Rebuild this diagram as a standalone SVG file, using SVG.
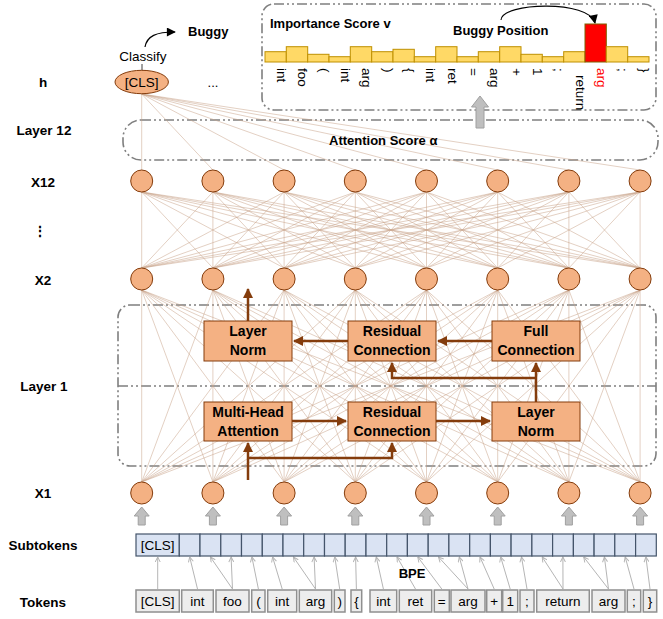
<svg xmlns="http://www.w3.org/2000/svg" width="663" height="619" viewBox="0 0 663 619">
<style>
text{font-family:"Liberation Sans",Arial,sans-serif;fill:#000}
.lbl{font-size:13.5px;font-weight:bold;text-anchor:middle}
.blk{font-size:14px;font-weight:bold;text-anchor:middle}
.tok{font-size:13.5px;text-anchor:middle}
.rot{font-size:13.5px;writing-mode:vertical-rl;text-orientation:sideways}
.ttl{font-size:13px;font-weight:bold}
.nd{fill:#F4B183;stroke:#843C0C;stroke-width:1}
.box{fill:#F4B183;stroke:#843C0C;stroke-width:1}
.dash{fill:none;stroke:#7F7F7F;stroke-width:1.6;stroke-dasharray:10 3 2 3 2 3}
.fan{fill:none;stroke:#C9A48C;stroke-width:0.8;stroke-opacity:0.65}
.arr{fill:none;stroke:#843C0C;stroke-width:2.5;marker-end:url(#ab)}
.bpe{stroke:#B5B5B5;stroke-width:1;marker-end:url(#chev)}
.sub{fill:#DAE3F3;stroke:#44546A;stroke-width:1.2}
.tk{fill:#EDEDED;stroke:#8F8F8F;stroke-width:1.5}
.bar{fill:#FFD966;stroke:#BF9000;stroke-width:1}
.garr{fill:#BFBFBF;stroke:#A0A0A0;stroke-width:1}
</style>
<defs>
<marker id="ab" viewBox="0 0 10 10" refX="9" refY="5" markerWidth="4" markerHeight="4" orient="auto"><path d="M0 0L10 5L0 10z" fill="#843C0C"/></marker>
<marker id="bk" viewBox="0 0 10 10" refX="9" refY="5" markerWidth="10" markerHeight="9" markerUnits="userSpaceOnUse" orient="auto"><path d="M0 0L10 5L0 10z" fill="#000"/></marker>
<marker id="chev" viewBox="0 0 6 6" refX="5.5" refY="3" markerWidth="6" markerHeight="6" markerUnits="userSpaceOnUse" orient="auto"><path d="M0.5 0.5L5.5 3L0.5 5.5" fill="none" stroke="#B5B5B5" stroke-width="1"/></marker>
<path id="ga" d="M0 0L7.5 9L3.5 9L3.5 18L-3.5 18L-3.5 9L-7.5 9Z"/>
</defs>

<!-- frames -->
<g id="importance-frame"><rect class="dash" x="262" y="4" width="394" height="106" rx="12"/></g>
<g id="attention-frame"><rect class="dash" x="123" y="120" width="535" height="40" rx="18"/></g>
<g id="layer1-frame"><rect class="dash" x="118" y="305" width="538" height="161" rx="12"/><line class="dash" x1="118" y1="386" x2="656" y2="386"/></g>

<!-- left labels -->
<g id="labels">
<text class="lbl" x="43" y="87">h</text>
<text class="lbl" x="44" y="135">Layer 12</text>
<text class="lbl" x="43" y="187">X12</text>
<text class="lbl" x="40" y="236">⋮</text>
<text class="lbl" x="43" y="285">X2</text>
<text class="lbl" x="44" y="391">Layer 1</text>
<text class="lbl" x="43" y="498">X1</text>
<text class="lbl" x="43" y="550">Subtokens</text>
<text class="lbl" x="43" y="607">Tokens</text>
</g>

<g id="connectors">
<path class="fan" d="M141.7 94L141.7 170M141.7 94L212.9 170M141.7 94L284.1 170M141.7 94L355.3 170M141.7 94L426.5 170M141.7 94L497.7 170M141.7 94L568.9 170M141.7 94L640.1 170"/>
<path class="fan" d="M141.7 192L141.7 268M141.7 192L212.9 268M141.7 192L284.1 268M141.7 192L355.3 268M141.7 192L426.5 268M141.7 192L497.7 268M141.7 192L568.9 268M141.7 192L640.1 268M212.9 192L141.7 268M212.9 192L212.9 268M212.9 192L284.1 268M212.9 192L355.3 268M212.9 192L426.5 268M212.9 192L497.7 268M212.9 192L568.9 268M212.9 192L640.1 268M284.1 192L141.7 268M284.1 192L212.9 268M284.1 192L284.1 268M284.1 192L355.3 268M284.1 192L426.5 268M284.1 192L497.7 268M284.1 192L568.9 268M284.1 192L640.1 268M355.3 192L141.7 268M355.3 192L212.9 268M355.3 192L284.1 268M355.3 192L355.3 268M355.3 192L426.5 268M355.3 192L497.7 268M355.3 192L568.9 268M355.3 192L640.1 268M426.5 192L141.7 268M426.5 192L212.9 268M426.5 192L284.1 268M426.5 192L355.3 268M426.5 192L426.5 268M426.5 192L497.7 268M426.5 192L568.9 268M426.5 192L640.1 268M497.7 192L141.7 268M497.7 192L212.9 268M497.7 192L284.1 268M497.7 192L355.3 268M497.7 192L426.5 268M497.7 192L497.7 268M497.7 192L568.9 268M497.7 192L640.1 268M568.9 192L141.7 268M568.9 192L212.9 268M568.9 192L284.1 268M568.9 192L355.3 268M568.9 192L426.5 268M568.9 192L497.7 268M568.9 192L568.9 268M568.9 192L640.1 268M640.1 192L141.7 268M640.1 192L212.9 268M640.1 192L284.1 268M640.1 192L355.3 268M640.1 192L426.5 268M640.1 192L497.7 268M640.1 192L568.9 268M640.1 192L640.1 268"/>
<path class="fan" d="M141.7 290L141.7 482M141.7 290L212.9 482M141.7 290L284.1 482M141.7 290L355.3 482M141.7 290L426.5 482M141.7 290L497.7 482M141.7 290L568.9 482M141.7 290L640.1 482M212.9 290L141.7 482M212.9 290L212.9 482M212.9 290L284.1 482M212.9 290L355.3 482M212.9 290L426.5 482M212.9 290L497.7 482M212.9 290L568.9 482M212.9 290L640.1 482M284.1 290L141.7 482M284.1 290L212.9 482M284.1 290L284.1 482M284.1 290L355.3 482M284.1 290L426.5 482M284.1 290L497.7 482M284.1 290L568.9 482M284.1 290L640.1 482M355.3 290L141.7 482M355.3 290L212.9 482M355.3 290L284.1 482M355.3 290L355.3 482M355.3 290L426.5 482M355.3 290L497.7 482M355.3 290L568.9 482M355.3 290L640.1 482M426.5 290L141.7 482M426.5 290L212.9 482M426.5 290L284.1 482M426.5 290L355.3 482M426.5 290L426.5 482M426.5 290L497.7 482M426.5 290L568.9 482M426.5 290L640.1 482M497.7 290L141.7 482M497.7 290L212.9 482M497.7 290L284.1 482M497.7 290L355.3 482M497.7 290L426.5 482M497.7 290L497.7 482M497.7 290L568.9 482M497.7 290L640.1 482M568.9 290L141.7 482M568.9 290L212.9 482M568.9 290L284.1 482M568.9 290L355.3 482M568.9 290L426.5 482M568.9 290L497.7 482M568.9 290L568.9 482M568.9 290L640.1 482M640.1 290L141.7 482M640.1 290L212.9 482M640.1 290L284.1 482M640.1 290L355.3 482M640.1 290L426.5 482M640.1 290L497.7 482M640.1 290L568.9 482M640.1 290L640.1 482"/>
<!-- brown flow arrows -->
<path class="arr" d="M248 321V289"/>
<path class="arr" d="M348 341H294"/>
<path class="arr" d="M492 341H438"/>
<path class="arr" d="M536 402V363"/>
<path class="arr" d="M536 378H392V363"/>
<path class="arr" d="M292 421H346"/>
<path class="arr" d="M436 421H490"/>
<path class="arr" d="M248 480V443"/>
<path class="arr" d="M248 458H392V443"/>
<!-- black curved arrows -->
<path d="M145 47C147 36 156 32 175 32" fill="none" stroke="#000" stroke-width="1.2" marker-end="url(#bk)"/>
<path d="M501 20C502 2 590 0 595 23" fill="none" stroke="#000" stroke-width="1.1" marker-end="url(#bk)"/>
<line x1="142" y1="64" x2="142" y2="71" stroke="#404040" stroke-width="1"/>
<!-- gray block arrows -->
<g class="garr">
<use href="#ga" x="141.7" y="507"/><use href="#ga" x="212.9" y="507"/><use href="#ga" x="284.1" y="507"/><use href="#ga" x="355.3" y="507"/><use href="#ga" x="426.5" y="507"/><use href="#ga" x="497.7" y="507"/><use href="#ga" x="568.9" y="507"/><use href="#ga" x="640.1" y="507"/>
<path d="M480 96L488.5 107L484 107L484 128L476 128L476 107L471.5 107Z"/>
</g>
<!-- BPE arrows -->
<line class="bpe" x1="157.7" y1="589" x2="157.7" y2="557"/>
<line class="bpe" x1="197.5" y1="589" x2="189.7" y2="557"/>
<line class="bpe" x1="232.5" y1="589" x2="210.4" y2="557"/>
<line class="bpe" x1="232.5" y1="589" x2="231.1" y2="557"/>
<line class="bpe" x1="258.4" y1="589" x2="251.9" y2="557"/>
<line class="bpe" x1="282.2" y1="589" x2="272.6" y2="557"/>
<line class="bpe" x1="315.5" y1="589" x2="293.4" y2="557"/>
<line class="bpe" x1="315.5" y1="589" x2="314.1" y2="557"/>
<line class="bpe" x1="339.7" y1="589" x2="334.8" y2="557"/>
<line class="bpe" x1="356.4" y1="589" x2="355.6" y2="557"/>
<line class="bpe" x1="383.4" y1="589" x2="376.3" y2="557"/>
<line class="bpe" x1="415.5" y1="589" x2="397" y2="557"/>
<line class="bpe" x1="441.8" y1="589" x2="417.8" y2="557"/>
<line class="bpe" x1="468" y1="589" x2="438.5" y2="557"/>
<line class="bpe" x1="468" y1="589" x2="459.3" y2="557"/>
<line class="bpe" x1="494.2" y1="589" x2="480" y2="557"/>
<line class="bpe" x1="510.2" y1="589" x2="500.7" y2="557"/>
<line class="bpe" x1="527" y1="589" x2="521.5" y2="557"/>
<line class="bpe" x1="563" y1="589" x2="542.2" y2="557"/>
<line class="bpe" x1="563" y1="589" x2="562.9" y2="557"/>
<line class="bpe" x1="608.5" y1="589" x2="583.7" y2="557"/>
<line class="bpe" x1="608.5" y1="589" x2="604.4" y2="557"/>
<line class="bpe" x1="634" y1="589" x2="625.2" y2="557"/>
<line class="bpe" x1="650" y1="589" x2="645.9" y2="557"/>
</g>

<!-- top texts -->
<text class="ttl" x="188" y="36">Buggy</text>
<text x="143" y="61" style="font-size:13.5px;text-anchor:middle">Classify</text>
<text x="213" y="87" style="font-size:13px;text-anchor:middle">...</text>
<text class="ttl" x="270" y="28">Importance Score v</text>
<text class="ttl" x="453" y="35">Buggy Position</text>
<text class="ttl" x="329" y="145">Attention Score  α</text>
<text x="412" y="578" style="font-size:13px;font-weight:bold;text-anchor:middle">BPE</text>

<!-- h node -->
<g id="h-cls"><ellipse class="nd" cx="141.7" cy="82" rx="26.7" ry="11.7"/><text class="tok" x="141.7" y="87">[CLS]</text></g>

<!-- X12 -->
<g id="x12-1"><circle class="nd" cx="141.7" cy="181" r="11"/></g>
<g id="x12-2"><circle class="nd" cx="212.9" cy="181" r="11"/></g>
<g id="x12-3"><circle class="nd" cx="284.1" cy="181" r="11"/></g>
<g id="x12-4"><circle class="nd" cx="355.3" cy="181" r="11"/></g>
<g id="x12-5"><circle class="nd" cx="426.5" cy="181" r="11"/></g>
<g id="x12-6"><circle class="nd" cx="497.7" cy="181" r="11"/></g>
<g id="x12-7"><circle class="nd" cx="568.9" cy="181" r="11"/></g>
<g id="x12-8"><circle class="nd" cx="640.1" cy="181" r="11"/></g>
<!-- X2 -->
<g id="x2-1"><circle class="nd" cx="141.7" cy="279" r="11"/></g>
<g id="x2-2"><circle class="nd" cx="212.9" cy="279" r="11"/></g>
<g id="x2-3"><circle class="nd" cx="284.1" cy="279" r="11"/></g>
<g id="x2-4"><circle class="nd" cx="355.3" cy="279" r="11"/></g>
<g id="x2-5"><circle class="nd" cx="426.5" cy="279" r="11"/></g>
<g id="x2-6"><circle class="nd" cx="497.7" cy="279" r="11"/></g>
<g id="x2-7"><circle class="nd" cx="568.9" cy="279" r="11"/></g>
<g id="x2-8"><circle class="nd" cx="640.1" cy="279" r="11"/></g>
<!-- X1 -->
<g id="x1-1"><circle class="nd" cx="141.7" cy="493" r="11"/></g>
<g id="x1-2"><circle class="nd" cx="212.9" cy="493" r="11"/></g>
<g id="x1-3"><circle class="nd" cx="284.1" cy="493" r="11"/></g>
<g id="x1-4"><circle class="nd" cx="355.3" cy="493" r="11"/></g>
<g id="x1-5"><circle class="nd" cx="426.5" cy="493" r="11"/></g>
<g id="x1-6"><circle class="nd" cx="497.7" cy="493" r="11"/></g>
<g id="x1-7"><circle class="nd" cx="568.9" cy="493" r="11"/></g>
<g id="x1-8"><circle class="nd" cx="640.1" cy="493" r="11"/></g>

<!-- Layer 1 blocks -->
<g id="layer-norm-2"><rect class="box" x="204" y="321" width="88" height="40"/><text class="blk" x="248" y="336">Layer</text><text class="blk" x="248" y="355">Norm</text></g>
<g id="residual-2"><rect class="box" x="348" y="321" width="88" height="40"/><text class="blk" x="392" y="336">Residual</text><text class="blk" x="392" y="355">Connection</text></g>
<g id="full-connection"><rect class="box" x="492" y="321" width="88" height="40"/><text class="blk" x="536" y="336">Full</text><text class="blk" x="536" y="355">Connection</text></g>
<g id="multi-head"><rect class="box" x="204" y="402" width="88" height="39"/><text class="blk" x="248" y="417">Multi-Head</text><text class="blk" x="248" y="436">Attention</text></g>
<g id="residual-1"><rect class="box" x="348" y="402" width="88" height="39"/><text class="blk" x="392" y="417">Residual</text><text class="blk" x="392" y="436">Connection</text></g>
<g id="layer-norm-1"><rect class="box" x="492" y="402" width="88" height="39"/><text class="blk" x="536" y="417">Layer</text><text class="blk" x="536" y="436">Norm</text></g>

<!-- importance bars -->
<g id="bars">
<rect class="bar" x="265" y="51.7" width="21.3" height="10.3"/>
<rect class="bar" x="286.3" y="46.7" width="21.4" height="15.3"/>
<rect class="bar" x="307.7" y="54.3" width="21.3" height="7.7"/>
<rect class="bar" x="329" y="56.7" width="21.3" height="5.3"/>
<rect class="bar" x="350.3" y="46.7" width="21.4" height="15.3"/>
<rect class="bar" x="371.7" y="51.7" width="21.3" height="10.3"/>
<rect class="bar" x="393" y="49.3" width="21.3" height="12.7"/>
<rect class="bar" x="414.3" y="56.7" width="21.4" height="5.3"/>
<rect class="bar" x="435.7" y="46.7" width="21.3" height="15.3"/>
<rect class="bar" x="457" y="56.7" width="21.3" height="5.3"/>
<rect class="bar" x="478.3" y="51.7" width="21.4" height="10.3"/>
<rect class="bar" x="499.7" y="46.7" width="21.3" height="15.3"/>
<rect class="bar" x="521" y="54.3" width="21.3" height="7.7"/>
<rect class="bar" x="542.3" y="56.7" width="21.4" height="5.3"/>
<rect class="bar" x="563.7" y="51.7" width="21.3" height="10.3"/>
<rect x="585" y="24" width="21.3" height="38" fill="#FF0000" stroke="#7F6000" stroke-width="1"/>
<rect class="bar" x="606.3" y="46.7" width="21.4" height="15.3"/>
<rect class="bar" x="627.7" y="56.7" width="21.3" height="5.3"/>
</g>
<g id="bar-labels">
<text class="rot" x="277" y="68">int</text>
<text class="rot" x="298" y="68">foo</text>
<text class="rot" x="319.5" y="68">(</text>
<text class="rot" x="341" y="68">int</text>
<text class="rot" x="362" y="68">arg</text>
<text class="rot" x="383.5" y="68">)</text>
<text class="rot" x="405" y="68">{</text>
<text class="rot" x="426" y="68">int</text>
<text class="rot" x="447.5" y="68">ret</text>
<text class="rot" x="469" y="68">=</text>
<text class="rot" x="490" y="68">arg</text>
<text class="rot" x="511.5" y="68">+</text>
<text class="rot" x="533" y="68">1</text>
<text class="rot" x="554" y="68">;</text>
<text class="rot" x="575.5" y="75">return</text>
<text class="rot" x="597" y="68" style="fill:#FF0000">arg</text>
<text class="rot" x="618" y="68">;</text>
<text class="rot" x="639.5" y="68">}</text>
</g>

<!-- subtokens -->
<g id="subtokens">
<g id="sub-cls"><rect class="sub" x="136" y="534" width="43.3" height="22"/><text class="tok" x="157.7" y="550">[CLS]</text></g>
<rect class="sub" x="179.3" y="534" width="20.7" height="22"/><rect class="sub" x="200" y="534" width="20.8" height="22"/><rect class="sub" x="220.8" y="534" width="20.7" height="22"/><rect class="sub" x="241.5" y="534" width="20.8" height="22"/><rect class="sub" x="262.3" y="534" width="20.7" height="22"/><rect class="sub" x="283" y="534" width="20.7" height="22"/><rect class="sub" x="303.7" y="534" width="20.8" height="22"/><rect class="sub" x="324.5" y="534" width="20.7" height="22"/><rect class="sub" x="345.2" y="534" width="20.8" height="22"/><rect class="sub" x="366" y="534" width="20.7" height="22"/><rect class="sub" x="386.7" y="534" width="20.7" height="22"/><rect class="sub" x="407.4" y="534" width="20.8" height="22"/><rect class="sub" x="428.2" y="534" width="20.7" height="22"/><rect class="sub" x="448.9" y="534" width="20.8" height="22"/><rect class="sub" x="469.7" y="534" width="20.7" height="22"/><rect class="sub" x="490.4" y="534" width="20.7" height="22"/><rect class="sub" x="511.1" y="534" width="20.8" height="22"/><rect class="sub" x="531.9" y="534" width="20.7" height="22"/><rect class="sub" x="552.6" y="534" width="20.8" height="22"/><rect class="sub" x="573.4" y="534" width="20.7" height="22"/><rect class="sub" x="594.1" y="534" width="20.7" height="22"/><rect class="sub" x="614.8" y="534" width="20.8" height="22"/><rect class="sub" x="635.6" y="534" width="20.7" height="22"/>
</g>

<!-- tokens -->
<g id="tokens">
<g id="t-cls"><rect class="tk" x="136" y="590" width="43.3" height="22"/><text class="tok" x="157.7" y="606">[CLS]</text></g>
<g id="t-int1"><rect class="tk" x="181.7" y="590" width="31.6" height="22"/><text class="tok" x="197.5" y="606">int</text></g>
<g id="t-foo"><rect class="tk" x="216" y="590" width="33" height="22"/><text class="tok" x="232.5" y="606">foo</text></g>
<g id="t-lp"><rect class="tk" x="251.7" y="590" width="13.3" height="22"/><text class="tok" x="258.4" y="606">(</text></g>
<g id="t-int2"><rect class="tk" x="267.7" y="590" width="29" height="22"/><text class="tok" x="282.2" y="606">int</text></g>
<g id="t-arg1"><rect class="tk" x="299.3" y="590" width="32.4" height="22"/><text class="tok" x="315.5" y="606">arg</text></g>
<g id="t-rp"><rect class="tk" x="334.3" y="590" width="10.7" height="22"/><text class="tok" x="339.7" y="606">)</text></g>
<g id="t-lb"><rect class="tk" x="351" y="590" width="10.7" height="22"/><text class="tok" x="356.4" y="606">{</text></g>
<g id="t-int3"><rect class="tk" x="370" y="590" width="26.7" height="22"/><text class="tok" x="383.4" y="606">int</text></g>
<g id="t-ret"><rect class="tk" x="399.3" y="590" width="32.4" height="22"/><text class="tok" x="415.5" y="606">ret</text></g>
<g id="t-eq"><rect class="tk" x="434.3" y="590" width="15" height="22"/><text class="tok" x="441.8" y="606">=</text></g>
<g id="t-arg2"><rect class="tk" x="451" y="590" width="34" height="22"/><text class="tok" x="468" y="606">arg</text></g>
<g id="t-plus"><rect class="tk" x="486.7" y="590" width="15" height="22"/><text class="tok" x="494.2" y="606">+</text></g>
<g id="t-one"><rect class="tk" x="502.7" y="590" width="15" height="22"/><text class="tok" x="510.2" y="606">1</text></g>
<g id="t-semi1"><rect class="tk" x="520" y="590" width="14" height="22"/><text class="tok" x="527" y="606">;</text></g>
<g id="t-return"><rect class="tk" x="536.7" y="590" width="52.6" height="22"/><text class="tok" x="563" y="606">return</text></g>
<g id="t-arg3"><rect class="tk" x="592" y="590" width="33" height="22"/><text class="tok" x="608.5" y="606">arg</text></g>
<g id="t-semi2"><rect class="tk" x="627.3" y="590" width="13.4" height="22"/><text class="tok" x="634" y="606">;</text></g>
<g id="t-rb"><rect class="tk" x="643.3" y="590" width="13.4" height="22"/><text class="tok" x="650" y="606">}</text></g>
</g>
</svg>
